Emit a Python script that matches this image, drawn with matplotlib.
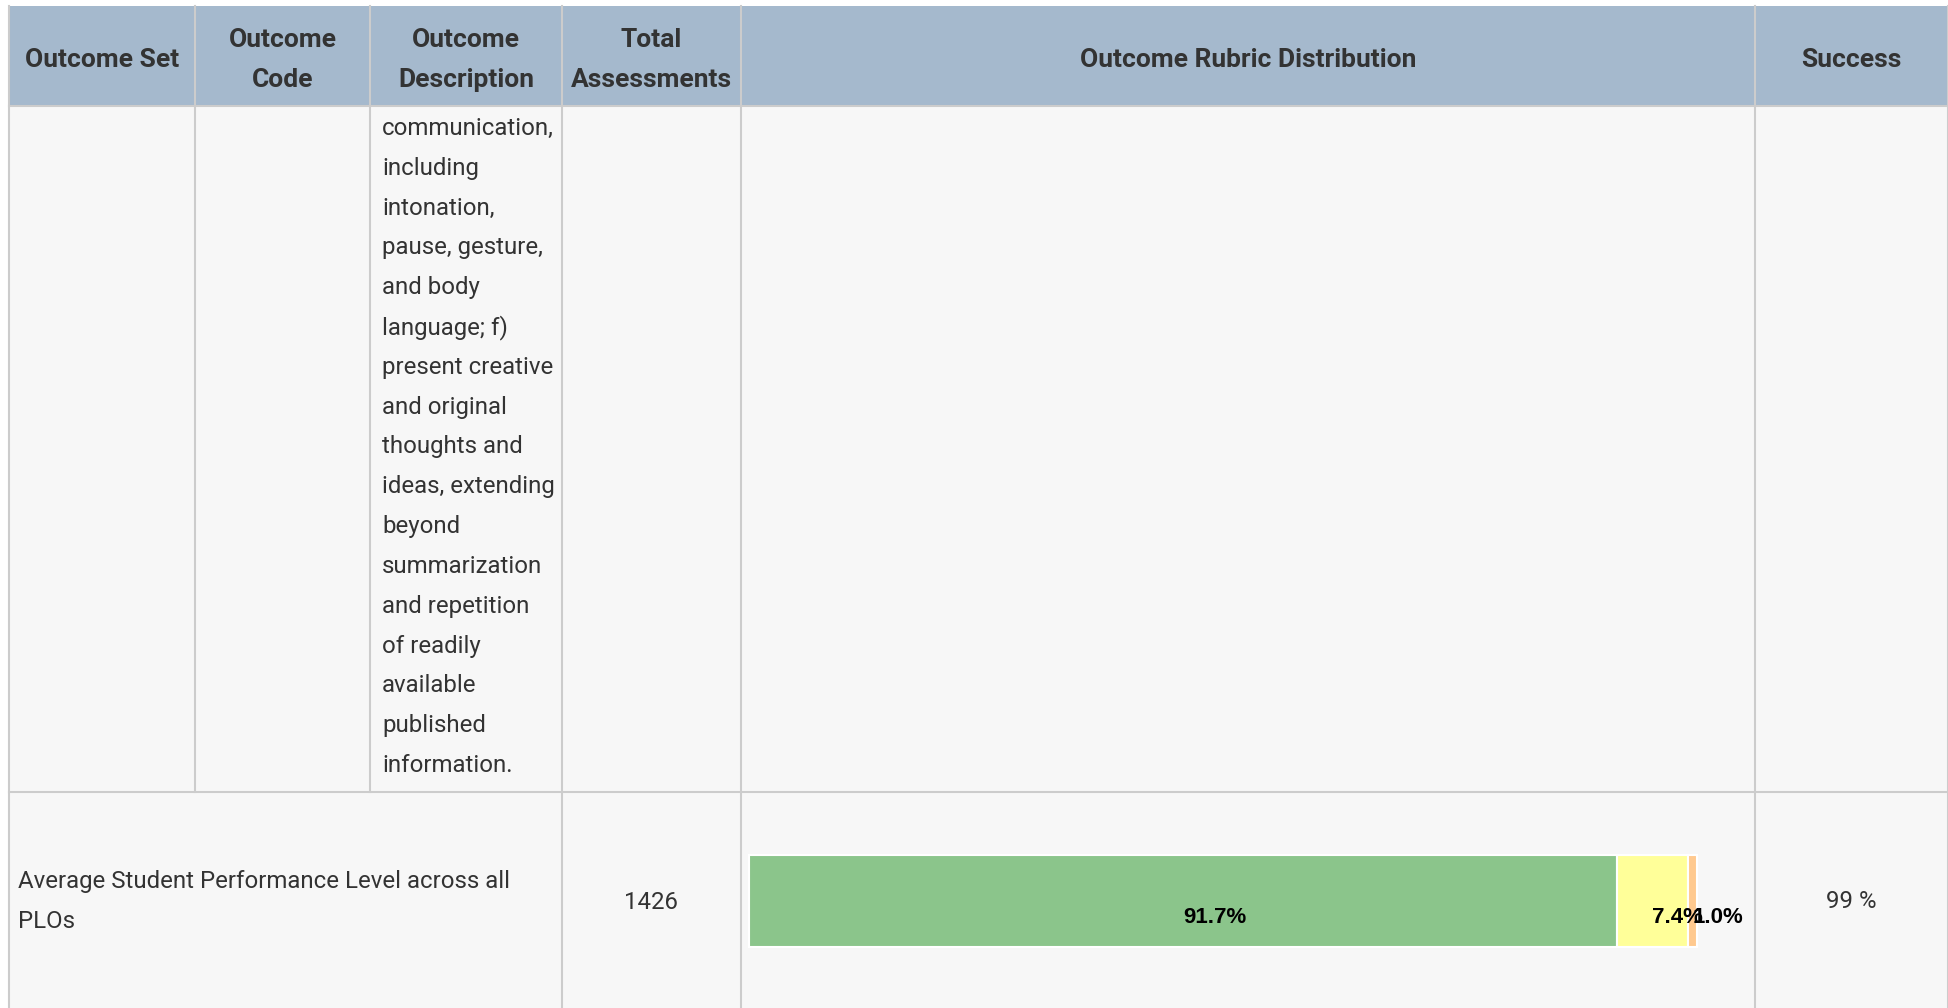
import matplotlib
matplotlib.use("Agg")
import matplotlib.pyplot as plt
import matplotlib.transforms as mtransforms
from matplotlib.patches import Rectangle

# ---------------- data ----------------
headers = ["Outcome Set", "Outcome\nCode", "Outcome\nDescription",
           "Total\nAssessments", "Outcome Rubric Distribution", "Success"]
description_lines = [
    "communication,", "including", "intonation,", "pause, gesture,",
    "and body", "language; f)", "present creative", "and original",
    "thoughts and", "ideas, extending", "beyond", "summarization",
    "and repetition", "of readily", "available", "published", "information.",
]
summary_label = ["Average Student Performance Level across all", "PLOs"]
total_assessments = "1426"
rubric_pct = [91.7, 7.4, 1.0]
success_text = "99 %"

# ---------------- style ----------------
W, H = 1949, 1008
HEADER_BG = "#a5b9cd"
BODY_BG = "#f7f7f7"
GRID = "#cccccc"
TXT = "#333333"
SEG_COLORS = ["#8bc58b", "#ffff99", "#ffc98f"]
BODY_FS = 17.25
HEAD_FS = 19.0

col_x = [9, 195, 370, 562, 741, 1755, 1948]
head_top, head_bot, row_sep = 6, 106, 792

fig = plt.figure(figsize=(W / 100, H / 100), dpi=100)
fig.patch.set_facecolor("white")
ax = fig.add_axes([0, 0, 1, 1])
ax.set_xlim(0, W)
ax.set_ylim(H, 0)
ax.axis("off")

# backgrounds
ax.add_patch(Rectangle((col_x[0], head_bot), col_x[-1] - col_x[0], H - head_bot,
                       facecolor=BODY_BG, edgecolor="none"))
ax.add_patch(Rectangle((col_x[0], head_top), col_x[-1] - col_x[0], head_bot - head_top,
                       facecolor=HEADER_BG, edgecolor="none"))

lw = 1.5
# horizontal lines
ax.plot([col_x[0], col_x[-1]], [head_bot, head_bot], color=GRID, lw=lw)
ax.plot([col_x[0], col_x[-1]], [row_sep, row_sep], color=GRID, lw=lw)
# vertical lines
for i, x in enumerate(col_x):
    if i in (1, 2):
        ax.plot([x, x], [head_top, row_sep], color=GRID, lw=lw)
    else:
        ax.plot([x, x], [head_top, H], color=GRID, lw=lw)

# header text
for i, h in enumerate(headers):
    cx = (col_x[i] + col_x[i + 1]) / 2
    lines = h.split("\n")
    if len(lines) == 1:
        baselines = [67]
    else:
        baselines = [47, 87]
    for ln, by in zip(lines, baselines):
        ax.text(cx, by, ln, ha="center", va="baseline", fontsize=HEAD_FS,
                fontweight="bold", family="Roboto", color=TXT)

# description lines
step = (772 - 135) / (len(description_lines) - 1)
for k, ln in enumerate(description_lines):
    ax.text(382, 135 + k * step, ln, ha="left", va="baseline",
            fontsize=BODY_FS, family="Roboto", color=TXT)

# summary row
for ln, by in zip(summary_label, [888, 928]):
    ax.text(18, by, ln, ha="left", va="baseline", fontsize=BODY_FS,
            family="Roboto", color=TXT)
ax.text((col_x[3] + col_x[4]) / 2, 909, total_assessments, ha="center",
        va="baseline", fontsize=BODY_FS, family="Roboto", color=TXT)
ax.text((col_x[5] + col_x[6]) / 2, 908, success_text, ha="center",
        va="baseline", fontsize=BODY_FS, family="Roboto", color=TXT)

# stacked bar
bx0, bx1, by0, by1 = 749, 1697, 855, 947
axb = fig.add_axes([bx0 / W, 1 - by1 / H, (bx1 - bx0) / W, (by1 - by0) / H])
axb.set_xlim(0, sum(rubric_pct))
axb.set_ylim(-0.5, 0.5)
axb.axis("off")
left = 0.0
offset = mtransforms.ScaledTranslation(0, -22 / 100, fig.dpi_scale_trans)
for v, c in zip(rubric_pct, SEG_COLORS):
    bars = axb.barh(0, v, left=left, height=1.0, color=c, edgecolor="white",
                    linewidth=1.5)
    for b in bars:
        b.set_clip_on(False)
    axb.text(left + v / 2, 0, f"{v:.1f}%", ha="left", va="baseline",
             fontsize=16, fontweight="bold", family="Liberation Sans",
             color="black", transform=axb.transData + offset, clip_on=False)
    left += v

fig.savefig("out.png", dpi=100, facecolor=fig.get_facecolor())
